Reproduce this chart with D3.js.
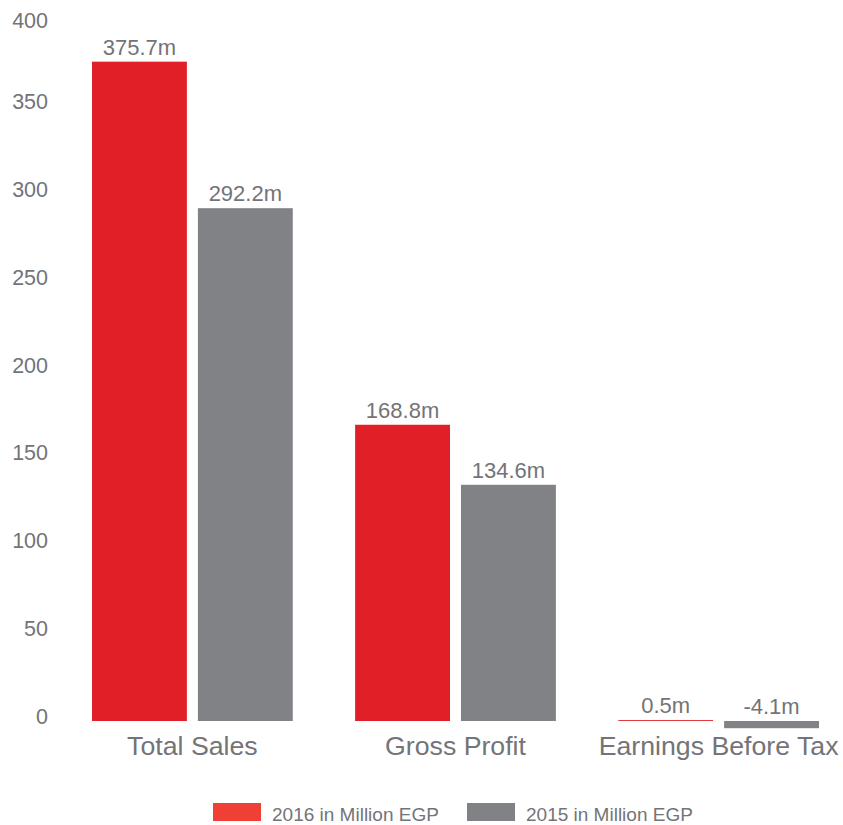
<!DOCTYPE html>
<html><head><meta charset="utf-8">
<script src="https://cdn.jsdelivr.net/npm/d3@7"></script>
<style>
html,body{margin:0;padding:0;background:#fff;}
svg text{font-family:"Liberation Sans",Arial,Helvetica,sans-serif;fill:#737477;}
</style></head>
<body><svg id="chart" width="843" height="825"></svg>
<script>
const categories = ["Total Sales", "Gross Profit", "Earnings Before Tax"];
const seriesNames = ["2016 in Million EGP", "2015 in Million EGP"];
const values2016 = [375.7, 168.8, 0.5];
const values2015 = [292.2, 134.6, -4.1];
const valueLabels2016 = ["375.7m", "168.8m", "0.5m"];
const valueLabels2015 = ["292.2m", "134.6m", "-4.1m"];
const yTicks = [0, 50, 100, 150, 200, 250, 300, 350, 400];
const barColors = ["#e01f26", "#818285"];
const legendColors = ["#f04036", "#818285"];

const svg = d3.select("#chart");
const x = d3.scaleBand().domain(categories).range([92, 819]).paddingInner(0.237).paddingOuter(0);
const xs = d3.scaleBand().domain([0, 1]).range([0, x.bandwidth()]).paddingInner(0.104).paddingOuter(0);
const y = d3.scaleLinear().domain([0, 400]).range([721, 19]);

// y tick labels
svg.append("g").selectAll("text").data(yTicks).join("text")
  .attr("x", 48).attr("y", d => Math.max(y(d) - 4.5, 20.5))
  .attr("text-anchor", "end").attr("dominant-baseline", "central")
  .style("font-size", "21.5px").text(d => d);

const rows = categories.map((c, i) => ({
  cat: c,
  vals: [
    {s: 0, v: values2016[i], label: valueLabels2016[i]},
    {s: 1, v: values2015[i], label: valueLabels2015[i]}
  ]
}));

const g = svg.append("g").selectAll("g").data(rows).join("g")
  .attr("transform", d => `translate(${x(d.cat)},0)`);

g.selectAll("rect").data(d => d.vals).join("rect")
  .attr("x", d => xs(d.s)).attr("width", xs.bandwidth())
  .attr("y", d => Math.min(y(d.v), y(0)))
  .attr("height", d => Math.abs(y(d.v) - y(0)))
  .attr("fill", d => barColors[d.s]);

g.selectAll("text.val").data(d => d.vals).join("text").attr("class", "val")
  .attr("x", d => xs(d.s) + xs.bandwidth() / 2)
  .attr("y", d => Math.min(y(d.v), y(0)) - 7)
  .attr("text-anchor", "middle").style("font-size", "22px")
  .text(d => d.label);

// category labels
svg.append("g").selectAll("text").data(categories).join("text")
  .attr("x", d => x(d) + x.bandwidth() / 2).attr("y", 755)
  .attr("text-anchor", "middle").style("font-size", "26.7px").text(d => d);

// legend
const legendX = [213, 467];
const lg = svg.append("g").selectAll("g").data(seriesNames).join("g")
  .attr("transform", (d, i) => `translate(${legendX[i]},803)`);
lg.append("rect").attr("width", 48).attr("height", 18).attr("fill", (d, i) => legendColors[i]);
lg.append("text").attr("x", 59).attr("y", 17.5).style("font-size", "19px").text(d => d);
</script></body></html>
